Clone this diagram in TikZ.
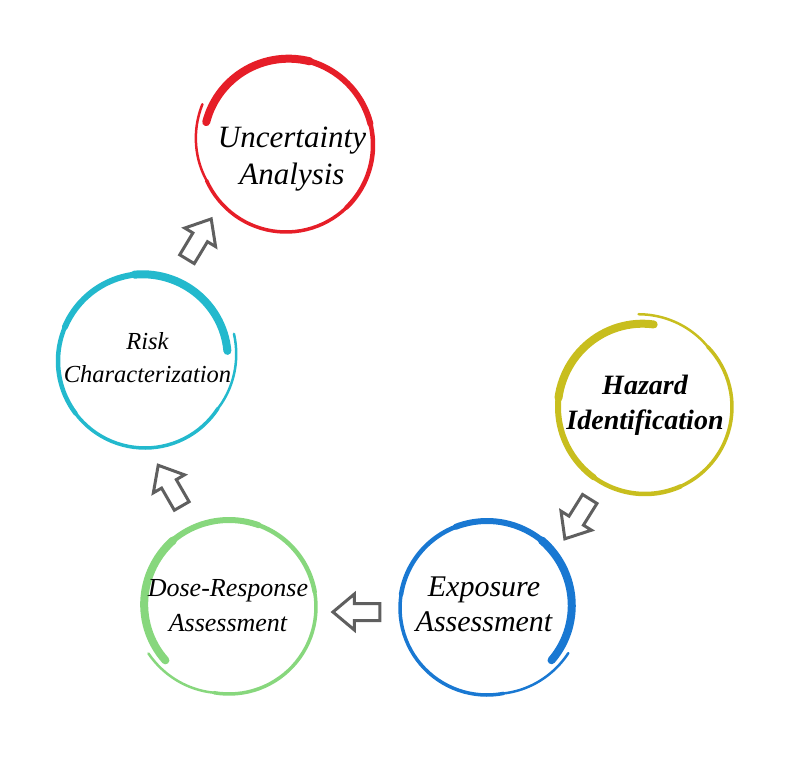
\documentclass[tikz,border=0pt]{standalone}
\usepackage{fontspec}
\setmainfont{Liberation Serif}
\usetikzlibrary{shapes.arrows}
\definecolor{ringred}{RGB}{230,30,40}
\definecolor{ringcyan}{RGB}{35,185,205}
\definecolor{ringyellow}{RGB}{200,190,30}
\definecolor{ringgreen}{RGB}{135,215,125}
\definecolor{ringblue}{RGB}{25,120,210}
\definecolor{arrowgray}{RGB}{95,95,95}
\tikzset{
  ringtext/.style={align=center, inner sep=0pt},
  flowarrow/.style={single arrow, draw=arrowgray, line width=3pt, fill=white,
    inner xsep=0pt, inner ysep=7pt, minimum height=47pt,
    single arrow head extend=9.5pt, single arrow tip angle=80}
}
\newcommand{\brushseg}[7]{%
  % #1 start angle, #2 direction (1/-1), #3 t0, #4 t1, #5 r0, #6 r1, #7 width
  \draw[line width=#7] plot[domain=#3:#4, samples=30]
    ({(#5+(#6-#5)*(\x-#3)/(#4-#3))*cos(#1+#2*\x)},
     {-(#5+(#6-#5)*(\x-#3)/(#4-#3))*sin(#1+#2*\x)});
}
\newcommand{\brushring}[4]{%
  % #1 centre, #2 colour, #3 start angle, #4 direction
  \begin{scope}[shift={(#1)}, #2, line cap=round]
    \brushseg{#3}{#4}{0}{90}{83}{87}{8pt}
    \brushseg{#3}{#4}{90}{150}{87}{87}{6pt}
    \brushseg{#3}{#4}{150}{210}{87}{87}{4.5pt}
    \brushseg{#3}{#4}{210}{320}{87}{87}{3.5pt}
    \brushseg{#3}{#4}{320}{370}{87}{93}{2.5pt}
  \end{scope}
}

\begin{document}
\begin{tikzpicture}[x=1pt, y=-1pt]
  \useasboundingbox (0,0) rectangle (800,771);

  % =======================
  % Rings
  % =======================
  \coordinate (uncC) at (286,145);
  \coordinate (riskC) at (145,361);
  \coordinate (hazC) at (645,407);
  \coordinate (doseC) at (229,607);
  \coordinate (expoC) at (487,608);

  \brushring{uncC}{ringred}{164}{-1}
  \brushring{riskC}{ringcyan}{7}{1}
  \brushring{hazC}{ringyellow}{84}{1}
  \brushring{doseC}{ringgreen}{220}{-1}
  \brushring{expoC}{ringblue}{-39}{1}

  % =======================
  % Labels
  % =======================
  \node[ringtext, font={\fontsize{31}{37}\selectfont\itshape}] (unc) at (292,159.5) {Uncertainty\\Analysis};
  \node[ringtext, font={\fontsize{24.5}{33}\selectfont\itshape}] (risk) at (147.5,358) {Risk\\Characterization};
  \node[ringtext, font={\fontsize{28}{35}\selectfont\bfseries\itshape}] (haz) at (645,405) {Hazard\\Identification};
  \node[ringtext, font={\fontsize{26}{35}\selectfont\itshape}] (dose) at (228,606) {Dose-Response\\Assessment};
  \node[ringtext, font={\fontsize{30}{35}\selectfont\itshape}] (expo) at (484,604.5) {Exposure\\Assessment};

  % =======================
  % Arrows
  % =======================
  \node[flowarrow, rotate=238] (hazexpo) at (580,514.6) {};
  \node[flowarrow, rotate=180] (expodose) at (361.5,612) {};
  \node[flowarrow, rotate=120] (doserisk) at (172.5,490) {};
  \node[flowarrow, rotate=59] (riskunc) at (196.5,243.4) {};

\end{tikzpicture}
\end{document}
